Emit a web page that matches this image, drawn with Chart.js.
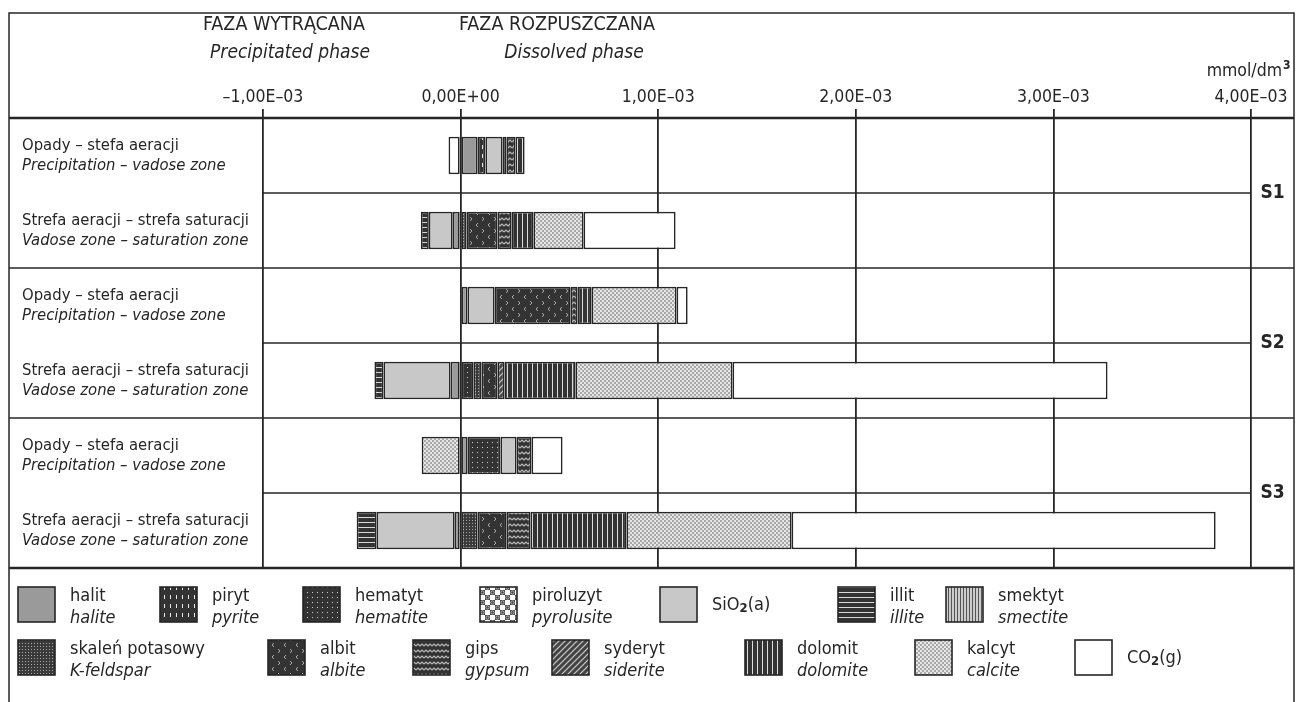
<!DOCTYPE html>
<html>
<head>
<meta charset="utf-8">
<script src="https://cdn.jsdelivr.net/npm/chart.js@4.4.1/dist/chart.umd.min.js"></script>
<style>
html, body { margin: 0; padding: 0; background: #fff; }
#wrap { width: 1296px; height: 702px; }
</style>
</head>
<body>
<div id="wrap"><canvas id="chart" width="1296" height="702"></canvas></div>
<script>
// rows: each site S1..S3 has two transitions
var rowKeys = ['S1-opady', 'S1-strefa', 'S2-opady', 'S2-strefa', 'S3-opady', 'S3-strefa'];
var rowPl = ['Opady – stefa aeracji', 'Strefa aeracji – strefa saturacji'];
var rowEn = ['Precipitation – vadose zone', 'Vadose zone – saturation zone'];
var groups = ['S1', 'S2', 'S3'];
var xTicks = [-0.001, 0, 0.001, 0.002, 0.003, 0.004];

// mmol/dm3, negative = precipitated, positive = dissolved
var halit     = [8.6e-5, -4.0e-5, 3.5e-5, -5.1e-5, 3.5e-5, -3.0e-5];
var piryt     = [4.0e-5, null, null, null, null, null];
var hematyt   = [null, null, null, 6.6e-5, 1.67e-4, null];
var piroluzyt = [null, null, null, null, null, null];
var sio2      = [8.6e-5, -1.21e-4, 1.37e-4, -3.39e-4, 8.1e-5, -3.95e-4];
var illit     = [null, -4.0e-5, null, -4.6e-5, null, -1.01e-4];
var smektyt   = [null, null, null, null, null, null];
var skalen    = [2.0e-5, 3.0e-5, null, 4.0e-5, null, 8.6e-5];
var albit     = [null, 1.57e-4, 3.85e-4, 8.1e-5, null, 1.47e-4];
var gips      = [4.6e-5, 7.1e-5, 3.5e-5, null, 7.6e-5, 1.21e-4];
var syderyt   = [null, null, null, 3.5e-5, null, null];
var dolomit   = [4.6e-5, 1.11e-4, 7.1e-5, 3.59e-4, null, 4.86e-4];
var kalcyt    = [null, 2.53e-4, 4.30e-4, 7.95e-4, -1.97e-4, 8.35e-4];
var co2       = [-6.1e-5, 4.66e-4, 5.6e-5, 1.898e-3, 1.57e-4, 2.146e-3];

var FONT = "'Liberation Sans Narrow', 'DejaVu Sans Condensed', sans-serif";
var INK = '#262626';

function tile(w, h, draw) {
    var c = document.createElement('canvas');
    c.width = w; c.height = h;
    var g = c.getContext('2d');
    draw(g, w, h);
    return document.getElementById('chart').getContext('2d').createPattern(c, 'repeat');
}

var fills = {
    halit: '#9a9a9a',
    piryt: tile(6, 9, function(g) {
        g.fillStyle = '#333'; g.fillRect(0, 0, 6, 9);
        g.fillStyle = '#e8e8e8'; g.fillRect(2, 1, 1, 4);
    }),
    hematyt: tile(5, 5, function(g) {
        g.fillStyle = '#333'; g.fillRect(0, 0, 5, 5);
        g.fillStyle = '#cfcfcf'; g.fillRect(2, 2, 1, 1);
    }),
    piroluzyt: tile(10, 10, function(g) {
        g.fillStyle = '#fff'; g.fillRect(0, 0, 10, 10);
        g.fillStyle = '#444'; g.fillRect(0, 0, 5, 5); g.fillRect(5, 5, 5, 5);
        g.strokeStyle = '#bbb'; g.lineWidth = 1;
        g.beginPath(); g.arc(2.5, 2.5, 1.6, 0, 7); g.stroke();
        g.beginPath(); g.arc(7.5, 7.5, 1.6, 0, 7); g.stroke();
    }),
    sio2: '#c8c8c8',
    illit: tile(4, 5, function(g) {
        g.fillStyle = '#333'; g.fillRect(0, 0, 4, 5);
        g.fillStyle = '#d8d8d8'; g.fillRect(0, 2, 4, 1);
    }),
    smektyt: tile(3, 3, function(g) {
        g.fillStyle = '#ccc'; g.fillRect(0, 0, 3, 3);
        g.fillStyle = '#555'; g.fillRect(0, 0, 1, 3);
    }),
    skalen: tile(3, 3, function(g) {
        g.fillStyle = '#3a3a3a'; g.fillRect(0, 0, 3, 3);
        g.fillStyle = '#a8a8a8'; g.fillRect(1, 1, 1, 1);
    }),
    albit: tile(12, 12, function(g) {
        g.fillStyle = '#333'; g.fillRect(0, 0, 12, 12);
        g.strokeStyle = '#aaa'; g.lineWidth = 1;
        g.beginPath(); g.moveTo(2, 1); g.lineTo(4, 3); g.lineTo(2, 5); g.stroke();
        g.beginPath(); g.moveTo(10, 7); g.lineTo(8, 9); g.lineTo(10, 11); g.stroke();
    }),
    gips: tile(8, 6, function(g) {
        g.fillStyle = '#333'; g.fillRect(0, 0, 8, 6);
        g.strokeStyle = '#bbb'; g.lineWidth = 1.2;
        g.beginPath(); g.moveTo(0, 4); g.lineTo(2, 2); g.lineTo(4, 4); g.lineTo(6, 2); g.lineTo(8, 4); g.stroke();
    }),
    syderyt: tile(6, 6, function(g) {
        g.fillStyle = '#444'; g.fillRect(0, 0, 6, 6);
        g.strokeStyle = '#ccc'; g.lineWidth = 1.2;
        g.beginPath(); g.moveTo(0, 6); g.lineTo(6, 0); g.moveTo(-1, 1); g.lineTo(1, -1); g.moveTo(5, 7); g.lineTo(7, 5); g.stroke();
    }),
    dolomit: tile(5, 4, function(g) {
        g.fillStyle = '#333'; g.fillRect(0, 0, 5, 4);
        g.fillStyle = '#ddd'; g.fillRect(2, 0, 1, 4);
    }),
    kalcyt: tile(4, 4, function(g) {
        g.fillStyle = '#e6e6e6'; g.fillRect(0, 0, 4, 4);
        g.fillStyle = '#a9a9a9'; g.fillRect(0, 0, 2, 2); g.fillRect(2, 2, 2, 2);
    }),
    co2: '#fff'
};

var series = [
    { key: 'halit', pl: 'halit', en: 'halite', data: halit },
    { key: 'piryt', pl: 'piryt', en: 'pyrite', data: piryt },
    { key: 'hematyt', pl: 'hematyt', en: 'hematite', data: hematyt },
    { key: 'piroluzyt', pl: 'piroluzyt', en: 'pyrolusite', data: piroluzyt },
    { key: 'sio2', pl: 'SiO2(a)', en: '', data: sio2 },
    { key: 'illit', pl: 'illit', en: 'illite', data: illit },
    { key: 'smektyt', pl: 'smektyt', en: 'smectite', data: smektyt },
    { key: 'skalen', pl: 'skaleń potasowy', en: 'K-feldspar', data: skalen },
    { key: 'albit', pl: 'albit', en: 'albite', data: albit },
    { key: 'gips', pl: 'gips', en: 'gypsum', data: gips },
    { key: 'syderyt', pl: 'syderyt', en: 'siderite', data: syderyt },
    { key: 'dolomit', pl: 'dolomit', en: 'dolomite', data: dolomit },
    { key: 'kalcyt', pl: 'kalcyt', en: 'calcite', data: kalcyt },
    { key: 'co2', pl: 'CO2(g)', en: '', data: co2 }
];

// legend placement: [row, box left]
var legendPos = {
    halit: [0, 18], piryt: [0, 160], hematyt: [0, 303], piroluzyt: [0, 480],
    sio2: [0, 660], illit: [0, 838], smektyt: [0, 946],
    skalen: [1, 18], albit: [1, 268], gips: [1, 413], syderyt: [1, 552],
    dolomit: [1, 745], kalcyt: [1, 915], co2: [1, 1075]
};

function fmtTick(v) {
    var n = Math.round(v * 1e5) / 100;
    if (n === 0) return '0,00E+00';
    return (n < 0 ? '–' : '') + Math.abs(n).toFixed(2).replace('.', ',') + 'E–03';
}

function subText(g, x, y, base, sub, after) {
    g.textAlign = 'left';
    g.fillText(base, x, y);
    x += g.measureText(base).width;
    var f = g.font;
    g.font = 'bold 13px ' + FONT;
    g.fillText(sub, x, y + 4);
    x += g.measureText(sub).width;
    g.font = f;
    g.fillText(after, x, y);
}

var framePlugin = {
    id: 'frame',
    afterDraw: function(chart) {
        var g = chart.ctx, a = chart.chartArea, ys = chart.scales.y;
        var L = 9, R = 1294, T = 13;
        g.save();
        g.strokeStyle = INK;
        g.lineWidth = 1.5;
        g.strokeRect(L, T, R - L, 702);

        function hline(y, x1, x2, w) {
            g.lineWidth = w;
            g.beginPath(); g.moveTo(x1, y); g.lineTo(x2, y); g.stroke();
        }
        hline(a.top, L, R, 2.5);
        hline(a.bottom, L, R, 2.5);
        for (var i = 0; i < rowKeys.length - 1; i++) {
            var yb = (ys.getPixelForValue(i) + ys.getPixelForValue(i + 1)) / 2;
            if (i % 2 === 1) hline(yb, L, R, 1.6);
            else hline(yb, a.left, a.right, 1.4);
        }

        g.fillStyle = INK;
        g.textBaseline = 'middle';
        for (i = 0; i < rowKeys.length; i++) {
            var cy = ys.getPixelForValue(i);
            g.textAlign = 'left';
            g.font = '16.5px ' + FONT;
            g.fillText(rowPl[i % 2], 22, cy - 10);
            g.font = 'italic 16.5px ' + FONT;
            g.fillText(rowEn[i % 2], 22, cy + 10);
        }
        g.font = 'bold 19px ' + FONT;
        g.textAlign = 'center';
        for (i = 0; i < groups.length; i++) {
            var gy = (ys.getPixelForValue(2 * i) + ys.getPixelForValue(2 * i + 1)) / 2;
            g.fillText(groups[i], (a.right + R) / 2, gy);
        }

        // header
        g.font = '19.5px ' + FONT;
        g.fillText('FAZA WYTRĄCANA', 284, 25);
        g.fillText('FAZA ROZPUSZCZANA', 557, 25);
        g.font = 'italic 19px ' + FONT;
        g.fillText('Precipitated phase', 290, 53);
        g.fillText('Dissolved phase', 574, 53);
        g.font = '17.5px ' + FONT;
        g.textAlign = 'right';
        g.fillText('mmol/dm', 1282, 71);
        g.font = 'bold 12px ' + FONT;
        g.textAlign = 'left';
        g.fillText('3', 1283, 66);

        // legend
        chart.data.datasets.forEach(function(ds, k) {
            var s = series[k], p = legendPos[s.key];
            var bx = p[1], by = p[0] === 0 ? 587 : 640;
            g.fillStyle = ds.backgroundColor;
            g.fillRect(bx, by, 37, 35);
            g.lineWidth = 1.6;
            g.strokeStyle = INK;
            g.strokeRect(bx, by, 37, 35);
            g.fillStyle = INK;
            g.font = '18px ' + FONT;
            var tx = bx + 52;
            if (s.key === 'sio2') subText(g, tx, by + 18, 'SiO', '2', '(a)');
            else if (s.key === 'co2') subText(g, tx, by + 18, 'CO', '2', '(g)');
            else {
                g.textAlign = 'left';
                g.fillText(s.pl, tx, by + 9);
                g.font = 'italic 18px ' + FONT;
                g.fillText(s.en, tx, by + 31);
            }
        });
        g.restore();
    }
};

var chart = new Chart(document.getElementById('chart'), {
    type: 'bar',
    data: {
        labels: rowKeys,
        datasets: series.map(function(s) {
            return {
                label: s.pl,
                data: s.data,
                backgroundColor: fills[s.key],
                borderColor: INK,
                borderWidth: 1.7,
                borderSkipped: false,
                categoryPercentage: 1,
                barPercentage: 0.5
            };
        })
    },
    options: {
        indexAxis: 'y',
        responsive: false,
        animation: false,
        devicePixelRatio: 1,
        layout: { padding: { left: 263, right: 45, top: 0, bottom: 134 } },
        plugins: { legend: { display: false }, tooltip: { enabled: false } },
        scales: {
            x: {
                type: 'linear',
                position: 'top',
                stacked: true,
                min: xTicks[0],
                max: xTicks[xTicks.length - 1],
                afterBuildTicks: function(s) {
                    s.ticks = xTicks.map(function(v) { return { value: v }; });
                },
                afterFit: function(s) { s.height = 118; s.paddingLeft = 0; s.paddingRight = 0; },
                ticks: {
                    callback: function(v) { return fmtTick(v); },
                    color: INK,
                    font: { family: FONT, size: 17.5 },
                    padding: 1,
                    maxRotation: 0,
                    autoSkip: false
                },
                grid: { color: INK, lineWidth: 1.8, tickLength: 9, drawTicks: true },
                border: { display: false }
            },
            y: {
                stacked: true,
                display: false,
                grid: { display: false }
            }
        }
    },
    plugins: [framePlugin]
});
</script>
</body>
</html>
